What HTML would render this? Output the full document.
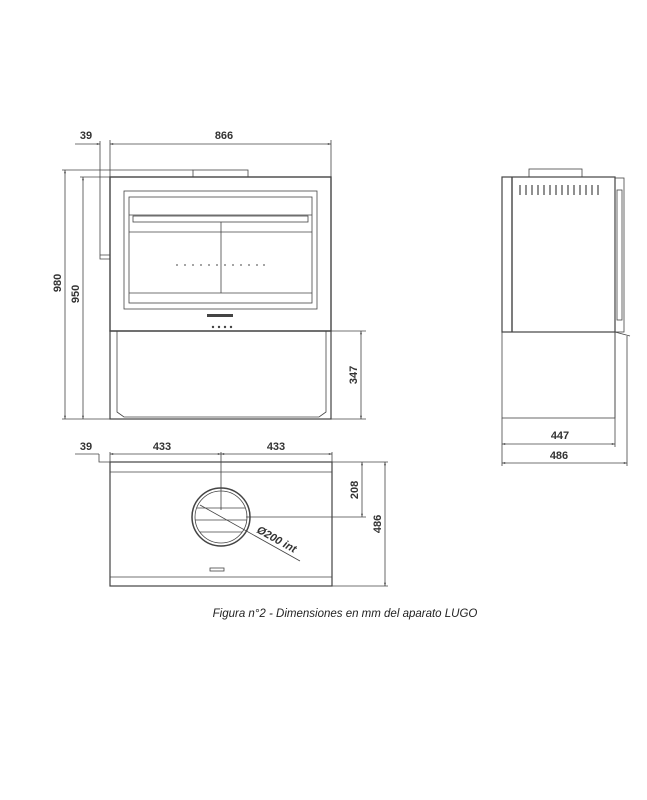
<!DOCTYPE html>
<html><head><meta charset="utf-8"><style>
html,body{margin:0;padding:0;background:#fff;width:647px;height:800px;overflow:hidden}
svg{display:block}
text{font-family:"Liberation Sans",sans-serif;font-weight:bold;font-size:11px;fill:#333}
</style></head><body>
<svg width="647" height="800" viewBox="0 0 647 800" xmlns="http://www.w3.org/2000/svg">
<defs><marker id="a" viewBox="0 0 10 10" refX="10" refY="5" markerWidth="6" markerHeight="4" orient="auto-start-reverse"><path d="M0 2L10 5L0 8z" fill="#444"/></marker></defs>
<g fill="none" stroke="#444" stroke-width="0.8">
<!-- FRONT VIEW -->
<rect x="193" y="170" width="55" height="7"/>
<rect x="110" y="177" width="221" height="154" stroke-width="1.4"/>
<rect x="124" y="191" width="193" height="118"/>
<rect x="129" y="197" width="183" height="106"/>
<line x1="129" y1="215" x2="312" y2="215"/>
<rect x="133" y="216" width="175" height="6"/>
<line x1="129" y1="232" x2="312" y2="232"/>
<line x1="221" y1="222" x2="221" y2="293"/>
<line x1="129" y1="293" x2="312" y2="293"/>
<rect x="110" y="331" width="221" height="88" stroke-width="1.2"/>
<path d="M117 331V412L124 417H319L326 412V331"/>
<path d="M100 141V255H110M100 255V259H110"/>
<!-- dims front -->
<line x1="110" y1="144" x2="331" y2="144" marker-start="url(#a)" marker-end="url(#a)"/>
<line x1="75" y1="144" x2="100" y2="144" marker-end="url(#a)"/>
<line x1="331" y1="140" x2="331" y2="177"/>
<line x1="110" y1="140" x2="110" y2="177"/>
<line x1="62" y1="170" x2="193" y2="170"/>
<line x1="80" y1="177" x2="110" y2="177"/>
<line x1="65" y1="170" x2="65" y2="419" marker-start="url(#a)" marker-end="url(#a)"/>
<line x1="83" y1="177" x2="83" y2="419" marker-start="url(#a)" marker-end="url(#a)"/>
<line x1="62" y1="419" x2="110" y2="419"/>
<line x1="331" y1="331" x2="366" y2="331"/>
<line x1="331" y1="419" x2="366" y2="419"/>
<line x1="361" y1="331" x2="361" y2="419" marker-start="url(#a)" marker-end="url(#a)"/>
<!-- TOP VIEW -->
<rect x="110" y="462" width="222" height="124" stroke-width="1.2"/>
<line x1="110" y1="472" x2="332" y2="472"/>
<line x1="110" y1="577" x2="332" y2="577"/>
<circle cx="221" cy="517" r="29" stroke-width="1.5"/>
<circle cx="221" cy="517" r="26"/>
<line x1="197" y1="508" x2="245" y2="508"/>
<line x1="195" y1="520" x2="247" y2="520"/>
<line x1="200" y1="532" x2="242" y2="532"/>
<line x1="200" y1="505" x2="300" y2="561"/>
<line x1="221" y1="452" x2="221" y2="510"/>
<line x1="246" y1="517" x2="366" y2="517"/>
<line x1="110" y1="454" x2="221" y2="454" marker-start="url(#a)" marker-end="url(#a)"/>
<line x1="221" y1="454" x2="332" y2="454" marker-start="url(#a)" marker-end="url(#a)"/>
<line x1="75" y1="454" x2="99" y2="454"/>
<path d="M99 454V462H110"/>
<line x1="110" y1="452" x2="110" y2="462"/>
<line x1="332" y1="452" x2="332" y2="462"/>
<line x1="332" y1="462" x2="388" y2="462"/>
<line x1="332" y1="586" x2="388" y2="586"/>
<line x1="362" y1="462" x2="362" y2="517" marker-start="url(#a)" marker-end="url(#a)"/>
<line x1="385" y1="462" x2="385" y2="586" marker-start="url(#a)" marker-end="url(#a)"/>
<rect x="210" y="568" width="14" height="3"/>
<!-- SIDE VIEW -->
<rect x="529" y="169" width="53" height="8"/>
<rect x="502" y="177" width="113" height="155" stroke-width="1.2"/>
<line x1="512" y1="177" x2="512" y2="332" stroke-width="1.4"/>
<rect x="615" y="178" width="9" height="154"/>
<rect x="617" y="190" width="5" height="130"/>
<line x1="615" y1="332" x2="630" y2="336"/>
<rect x="502" y="332" width="113" height="86"/>
<line x1="615" y1="332" x2="615" y2="418"/>
<line x1="627" y1="336" x2="627" y2="466"/>
<line x1="502" y1="418" x2="502" y2="466"/>
<line x1="615" y1="418" x2="615" y2="447"/>
<line x1="502" y1="444" x2="615" y2="444" marker-start="url(#a)" marker-end="url(#a)"/>
<line x1="502" y1="463" x2="627" y2="463" marker-start="url(#a)" marker-end="url(#a)"/>
</g>
<g stroke="#555" stroke-width="1.3">
<line x1="520" y1="185" x2="520" y2="195"/><line x1="526" y1="185" x2="526" y2="195"/><line x1="532" y1="185" x2="532" y2="195"/><line x1="538" y1="185" x2="538" y2="195"/><line x1="544" y1="185" x2="544" y2="195"/><line x1="550" y1="185" x2="550" y2="195"/><line x1="556" y1="185" x2="556" y2="195"/><line x1="562" y1="185" x2="562" y2="195"/><line x1="568" y1="185" x2="568" y2="195"/><line x1="574" y1="185" x2="574" y2="195"/><line x1="580" y1="185" x2="580" y2="195"/><line x1="586" y1="185" x2="586" y2="195"/><line x1="592" y1="185" x2="592" y2="195"/><line x1="598" y1="185" x2="598" y2="195"/>
</g>
<g fill="#888">
<circle cx="177" cy="265" r="1"/><circle cx="185" cy="265" r="1"/><circle cx="193" cy="265" r="1"/><circle cx="201" cy="265" r="1"/><circle cx="209" cy="265" r="1"/><circle cx="217" cy="265" r="1"/><circle cx="225" cy="265" r="1"/><circle cx="233" cy="265" r="1"/><circle cx="241" cy="265" r="1"/><circle cx="249" cy="265" r="1"/><circle cx="257" cy="265" r="1"/><circle cx="264" cy="265" r="1"/>
</g>
<rect x="207" y="314" width="26" height="3" fill="#444"/>
<g fill="#444"><circle cx="213" cy="327" r="1.2"/><circle cx="219" cy="327" r="1.2"/><circle cx="225" cy="327" r="1.2"/><circle cx="231" cy="327" r="1.2"/></g>
<!-- labels -->
<text x="86" y="139" text-anchor="middle">39</text>
<text x="224" y="139" text-anchor="middle">866</text>
<text transform="translate(61,283) rotate(-90)" text-anchor="middle">980</text>
<text transform="translate(79,294) rotate(-90)" text-anchor="middle">950</text>
<text transform="translate(357,375) rotate(-90)" text-anchor="middle">347</text>
<text x="86" y="450" text-anchor="middle">39</text>
<text x="162" y="450" text-anchor="middle">433</text>
<text x="276" y="450" text-anchor="middle">433</text>
<text transform="translate(358,490) rotate(-90)" text-anchor="middle">208</text>
<text transform="translate(381,524) rotate(-90)" text-anchor="middle">486</text>
<text transform="translate(256,532) rotate(29)" style="font-style:italic">Ø200 int</text>
<text x="560" y="439" text-anchor="middle">447</text>
<text x="559" y="459" text-anchor="middle">486</text>
<text x="345" y="617" text-anchor="middle" style="font-weight:normal;font-style:italic;font-size:11.5px;fill:#222">Figura n°2 - Dimensiones en mm del aparato LUGO</text>
</svg>
</body></html>
